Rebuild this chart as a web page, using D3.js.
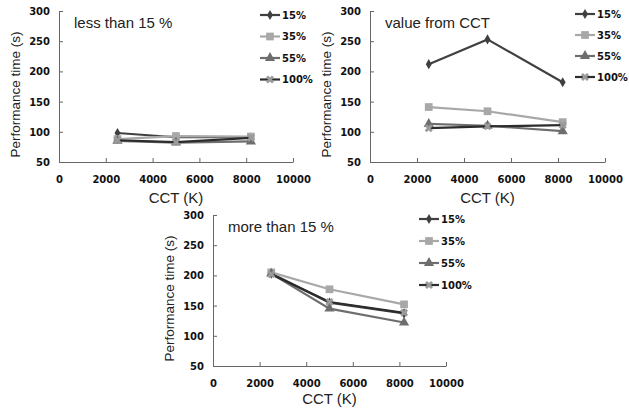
<!DOCTYPE html>
<html>
<head>
<meta charset="utf-8">
<script src="https://cdn.jsdelivr.net/npm/d3@7"></script>
<style>
  body { margin: 0; background: #fff; }
  svg { display: block; }
</style>
</head>
<body>
<div id="chart"></div>
<script>
// values
var cct = [2500, 5000, 8200];
var seriesNames = ["15%", "35%", "55%", "100%"];
var xTicks = [0, 2000, 4000, 6000, 8000, 10000];
var yTicks = [50, 100, 150, 200, 250, 300];

// one row per series (15%, 35%, 55%, 100%)
var lessThan15 = [[98, 91, 91], [88, 93, 92], [85, 82, 84], [86, 83, 90]];
var fromCCT = [[212, 253, 182], [141, 134, 116], [113, 110, 101], [106, 109, 111]];
var moreThan15 = [[203, 155, 137], [205, 177, 152], [203, 145, 122], [202, 156, 138]];

var width = 629, height = 408;

var svg = d3.select("#chart")
    .append("svg")
    .attr("width", width)
    .attr("height", height);

// look of each series
var lineColor = ["#404040", "#a8a8a8", "#6e6e6e", "#2c2c2c"];
var markColor = ["#404040", "#a8a8a8", "#6e6e6e", "#9a9a9a"];
var markType = [d3.symbolDiamond, d3.symbolSquare, d3.symbolTriangle, d3.symbolCross];
var markSize = [30, 60, 45, 40];

var panels = [
    { title: "less than 15 %", data: lessThan15, left: 59, right: 293, top: 11, bottom: 162,
      legX: 260, legY: 15, legStep: 21.5, xTitle: 41 },
    { title: "value from CCT", data: fromCCT, left: 370, right: 605, top: 11, bottom: 162,
      legX: 575, legY: 14, legStep: 21, xTitle: 41 },
    { title: "more than 15 %", data: moreThan15, left: 213, right: 446, top: 215, bottom: 366,
      legX: 419, legY: 219, legStep: 22, xTitle: 38 }
];

function drawPanel(p) {
    var g = svg.append("g");

    var x = d3.scaleLinear().domain([0, 10000]).range([p.left, p.right]);
    var y = d3.scaleLinear().domain([50, 300]).range([p.bottom, p.top]);

    // axes (ticks point inward like the original)
    var xAxis = g.append("g")
        .attr("transform", "translate(0," + p.bottom + ")")
        .call(d3.axisBottom(x).tickValues(xTicks).tickFormat(d3.format("d"))
            .tickSize(-4).tickSizeOuter(0).tickPadding(14));
    var yAxis = g.append("g")
        .attr("transform", "translate(" + p.left + ",0)")
        .call(d3.axisLeft(y).tickValues(yTicks).tickSize(-4).tickSizeOuter(0).tickPadding(9));

    [xAxis, yAxis].forEach(function(a) {
        a.select(".domain").attr("stroke", "#666");
        a.selectAll(".tick line").attr("stroke", "#666");
        a.selectAll(".tick text")
            .attr("fill", "#111")
            .style("font-family", "DejaVu Sans")
            .style("font-weight", "bold")
            .style("font-size", "10px");
    });
    yAxis.selectAll(".tick text").attr("dy", "0.35em");

    // axis titles
    g.append("text")
        .attr("x", (p.left + p.right) / 2)
        .attr("y", p.bottom + p.xTitle)
        .attr("text-anchor", "middle")
        .style("font-family", "Liberation Sans, Arial")
        .style("font-size", "15px")
        .attr("fill", "#222")
        .text("CCT (K)");

    g.append("text")
        .attr("transform", "translate(" + (p.left - 39) + "," + ((p.top + p.bottom) / 2 + 8) + ") rotate(-90)")
        .attr("text-anchor", "middle")
        .style("font-family", "Liberation Sans, Arial")
        .style("font-size", "13.5px")
        .attr("fill", "#222")
        .text("Performance time (s)");

    // panel title
    g.append("text")
        .attr("x", p.left + 15)
        .attr("y", p.top + 17)
        .style("font-family", "Liberation Sans, Arial")
        .style("font-size", "15px")
        .attr("fill", "#222")
        .text(p.title);

    var line = d3.line()
        .x(function(d, i) { return x(cct[i]); })
        .y(function(d) { return y(d); });

    p.data.forEach(function(vals, s) {
        g.append("path")
            .datum(vals)
            .attr("d", line)
            .attr("fill", "none")
            .attr("stroke", lineColor[s])
            .attr("stroke-width", 2.2);

        g.selectAll(".m" + s)
            .data(vals)
            .enter()
            .append("path")
            .attr("transform", function(d, i) {
                var r = s == 3 ? " rotate(45)" : "";
                return "translate(" + x(cct[i]) + "," + y(d) + ")" + r;
            })
            .attr("d", d3.symbol().type(markType[s]).size(markSize[s]))
            .attr("fill", markColor[s]);
    });

    // legend
    seriesNames.forEach(function(name, s) {
        var ly = p.legY + s * p.legStep;
        g.append("line")
            .attr("x1", p.legX).attr("x2", p.legX + 20)
            .attr("y1", ly).attr("y2", ly)
            .attr("stroke", lineColor[s])
            .attr("stroke-width", 2.2);
        g.append("path")
            .attr("transform", "translate(" + (p.legX + 10) + "," + ly + ")" + (s == 3 ? " rotate(45)" : ""))
            .attr("d", d3.symbol().type(markType[s]).size(markSize[s]))
            .attr("fill", markColor[s]);
        g.append("text")
            .attr("x", p.legX + 22)
            .attr("y", ly)
            .attr("dy", "0.35em")
            .style("font-family", "DejaVu Sans")
            .style("font-weight", "bold")
            .style("font-size", "10px")
            .attr("fill", "#111")
            .text(name);
    });
}

panels.forEach(drawPanel);
</script>
</body>
</html>
